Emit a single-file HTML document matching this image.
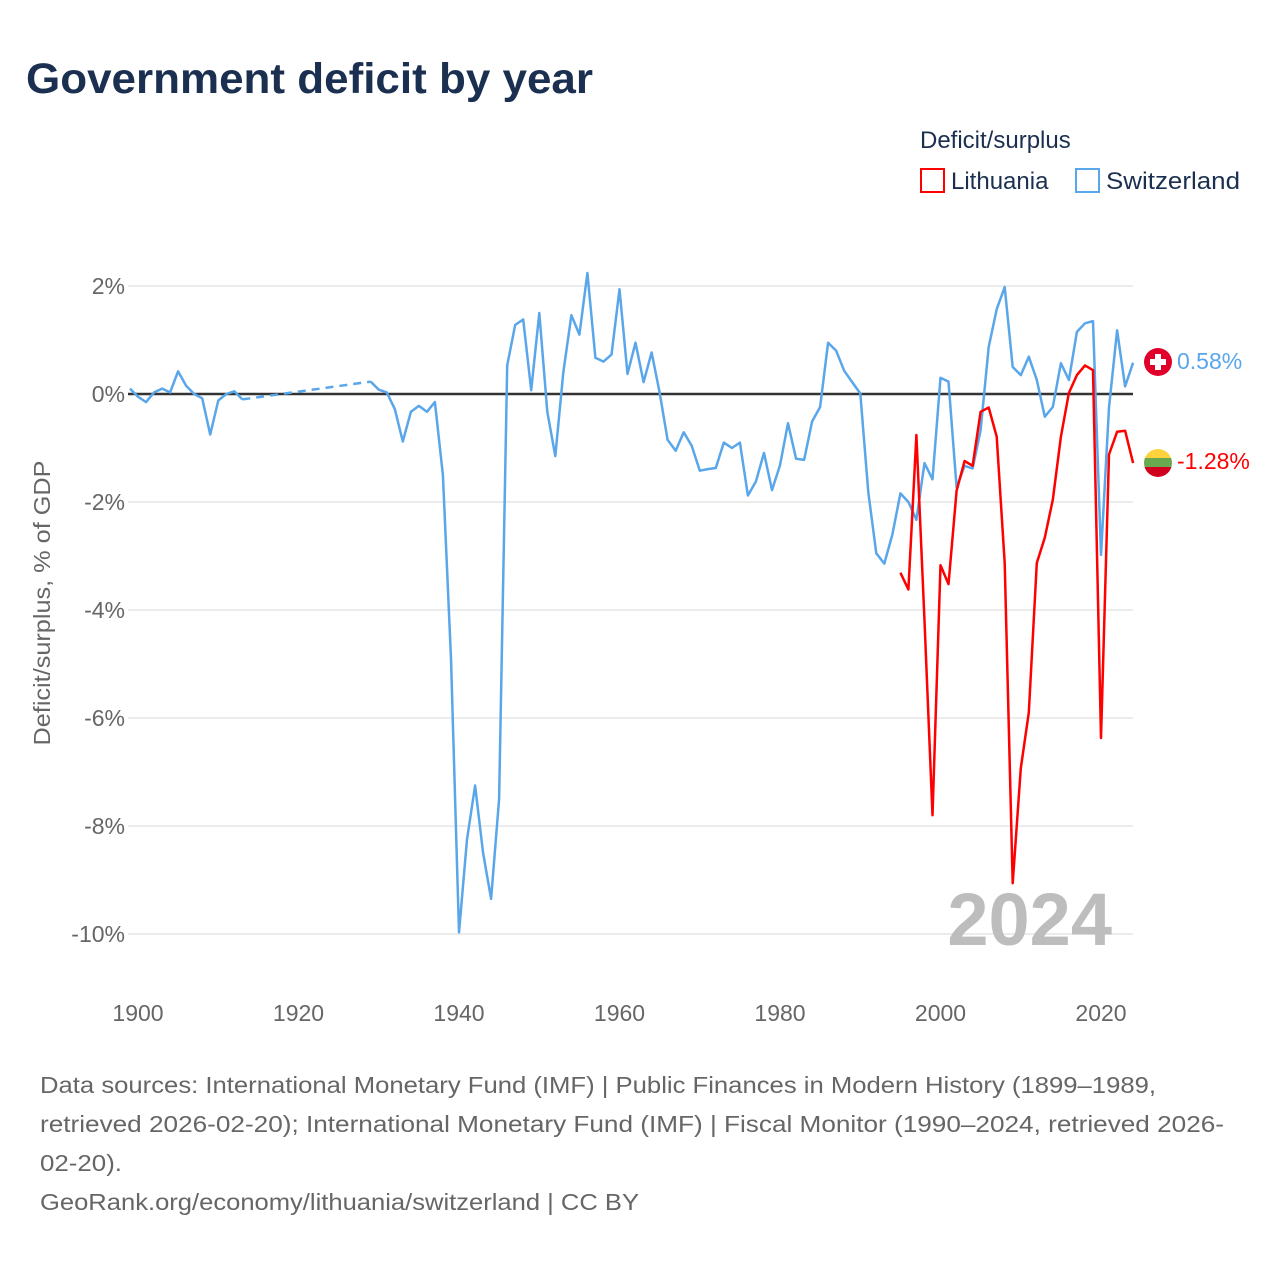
<!DOCTYPE html>
<html><head><meta charset="utf-8"><style>
body{margin:0;background:#fff;font-family:"Liberation Sans",sans-serif;}
svg text{font-family:"Liberation Sans",sans-serif;}
</style></head><body>
<svg id="chart" width="1280" height="1280" viewBox="0 0 1280 1280">
<rect width="1280" height="1280" fill="#fff"/>
<text x="26" y="93" font-size="43" font-weight="bold" fill="#1b3050" textLength="567" lengthAdjust="spacingAndGlyphs">Government deficit by year</text>
<text x="920" y="148" font-size="24" fill="#1b3050">Deficit/surplus</text>
<g><rect x="921" y="169" width="23" height="23" fill="none" stroke="#f00" stroke-width="2"/><text x="951" y="189" font-size="24" fill="#1b3050">Lithuania</text></g>
<g><rect x="1076" y="169" width="23" height="23" fill="none" stroke="#5aa6ea" stroke-width="2"/><text x="1106" y="189" font-size="24" fill="#1b3050" textLength="134" lengthAdjust="spacingAndGlyphs">Switzerland</text></g>
<g id="grid"></g>
<g id="yticks"></g>
<g id="xticks"></g>
<text transform="translate(50,603) rotate(-90)" text-anchor="middle" font-size="23" fill="#666" textLength="285" lengthAdjust="spacingAndGlyphs">Deficit/surplus, % of GDP</text>
<text x="1112" y="945" text-anchor="end" font-size="74" font-weight="bold" fill="#bdbdbd">2024</text>
<g id="series"></g>
<g><circle cx="1158" cy="362" r="14" fill="#e0002a"/><rect x="1155" y="354" width="6" height="16" fill="#fff"/><rect x="1150" y="359" width="16" height="6" fill="#fff"/></g>
<g><clipPath id="lc"><circle cx="1158" cy="463" r="14"/></clipPath><g clip-path="url(#lc)"><rect x="1144" y="449" width="28" height="10" fill="#fdd23c"/><rect x="1144" y="458" width="28" height="10" fill="#6aa84f"/><rect x="1144" y="467" width="28" height="11" fill="#d2001f"/></g></g>
<text x="1177" y="369" font-size="23" fill="#5aa6ea">0.58%</text>
<text x="1177" y="469" font-size="23" fill="#f00">-1.28%</text>
<g font-size="23" fill="#666">
<text x="40" y="1093" textLength="1116" lengthAdjust="spacingAndGlyphs">Data sources: International Monetary Fund (IMF) | Public Finances in Modern History (1899–1989,</text>
<text x="40" y="1132" textLength="1184" lengthAdjust="spacingAndGlyphs">retrieved 2026-02-20); International Monetary Fund (IMF) | Fiscal Monitor (1990–2024, retrieved 2026-</text>
<text x="40" y="1171" textLength="82" lengthAdjust="spacingAndGlyphs">02-20).</text>
<text x="40" y="1210" textLength="599" lengthAdjust="spacingAndGlyphs">GeoRank.org/economy/lithuania/switzerland | CC BY</text>
</g>
</svg>
<script>
const yTicks=[2,0,-2,-4,-6,-8,-10];
const xTicks=[1900,1920,1940,1960,1980,2000,2020];
const swYears1=[1899,1900,1901,1902,1903,1904,1905,1906,1907,1908,1909,1910,1911,1912,1913];
const swVals1=[0.1,-0.05,-0.15,0.03,0.1,0.03,0.42,0.15,0,-0.08,-0.75,-0.12,0,0.05,-0.1];
const swYears2=[];for(let y=1929;y<=2024;y++)swYears2.push(y);
const swVals2=[0.23,0.08,0.03,-0.28,-0.88,-0.33,-0.22,-0.33,-0.15,-1.5,-4.9,-9.97,-8.25,-7.25,-8.5,-9.35,-7.5,0.53,1.28,1.38,0.07,1.5,-0.33,-1.15,0.4,1.46,1.1,2.24,0.67,0.6,0.73,1.94,0.37,0.95,0.22,0.77,0.03,-0.85,-1.05,-0.71,-0.96,-1.42,-1.39,-1.37,-0.9,-1.0,-0.9,-1.88,-1.62,-1.09,-1.78,-1.32,-0.54,-1.2,-1.22,-0.51,-0.24,0.95,0.8,0.43,0.22,0.01,-1.82,-2.95,-3.14,-2.6,-1.84,-2.0,-2.33,-1.28,-1.58,0.3,0.23,-1.73,-1.33,-1.38,-0.67,0.87,1.57,1.98,0.5,0.35,0.69,0.26,-0.42,-0.24,0.57,0.26,1.15,1.31,1.35,-2.98,-0.25,1.18,0.14,0.58];
const ltYears=[];for(let y=1995;y<=2024;y++)ltYears.push(y);
const ltVals=[-3.31,-3.62,-0.76,-4.2,-7.8,-3.17,-3.52,-1.79,-1.24,-1.33,-0.33,-0.25,-0.79,-3.13,-9.06,-6.93,-5.9,-3.13,-2.66,-1.96,-0.79,0.02,0.35,0.53,0.44,-6.37,-1.12,-0.7,-0.68,-1.28];
const NS='http://www.w3.org/2000/svg';
const xS=y=>138+(y-1900)*8.025;
const yS=v=>394-54*v;
function mk(tag,attrs,parent){const e=document.createElementNS(NS,tag);for(const k in attrs)e.setAttribute(k,attrs[k]);parent.appendChild(e);return e;}
const grid=document.getElementById('grid'),yt=document.getElementById('yticks'),xt=document.getElementById('xticks'),ser=document.getElementById('series');
yTicks.forEach(v=>{
 if(v!==0){const l=mk('line',{x1:128,x2:1133,y1:yS(v),y2:yS(v),stroke:'#e6e6e6','stroke-width':1.5},grid);
 
 }
 const t=mk('text',{x:125,y:yS(v)+8,'text-anchor':'end','font-size':23,fill:'#666'},yt);
 t.textContent=v+'%';
 
 
});
xTicks.forEach(y=>{
 const t=mk('text',{x:xS(y),y:1021,'text-anchor':'middle','font-size':23,fill:'#666'},xt);
 t.textContent=y;
 
 
});
const zl=mk('line',{x1:128,x2:1133,y1:yS(0),y2:yS(0),stroke:'#333','stroke-width':2.5},grid);


function path(xs,vs){return xs.map((y,i)=>(i?'L':'M')+xS(y).toFixed(1)+','+yS(vs[i]).toFixed(1)).join('');}
const s1=mk('path',{d:path(swYears1,swVals1),fill:'none',stroke:'#5aa6ea','stroke-width':2.5,'stroke-linejoin':'round'},ser);


const gx=[swYears1[swYears1.length-1],swYears2[0]],gv=[swVals1[swVals1.length-1],swVals2[0]];
const gap=mk('path',{d:path(gx,gv),fill:'none',stroke:'#5aa6ea','stroke-width':2.5,'stroke-dasharray':'8,6'},ser);


const s2=mk('path',{d:path(swYears2,swVals2),fill:'none',stroke:'#5aa6ea','stroke-width':2.5,'stroke-linejoin':'round'},ser);


const lt=mk('path',{d:path(ltYears,ltVals),fill:'none',stroke:'#f00','stroke-width':2.5,'stroke-linejoin':'round'},ser);


</script>
</body></html>
